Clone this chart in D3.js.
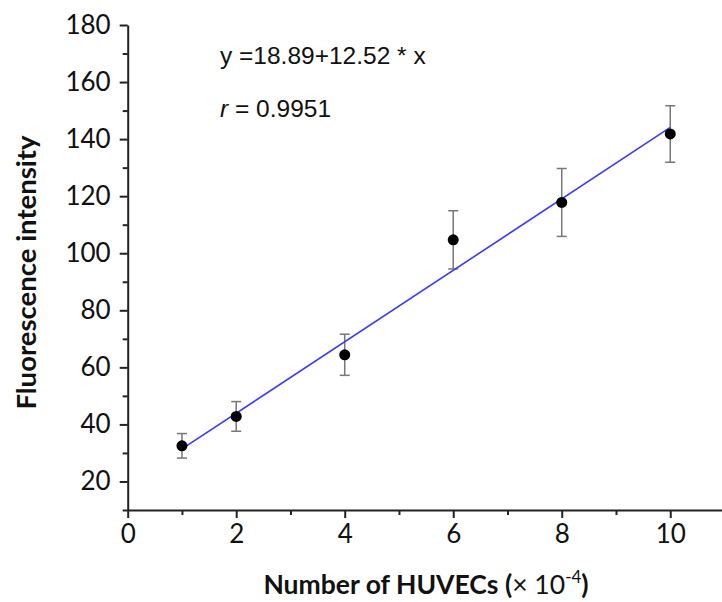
<!DOCTYPE html>
<html>
<head>
<meta charset="utf-8">
<script src="https://cdn.jsdelivr.net/npm/d3@7"></script>
<style>
  html, body { margin: 0; padding: 0; background: #fff; }
  svg { display: block; }
</style>
</head>
<body>
<svg id="chart" width="722" height="602"></svg>
<script>
// ---- data ----
const cellCounts = [1, 2, 4, 6, 8, 10];
const intensity = [32.5, 42.8, 64.4, 104.7, 117.8, 141.8];
const errorSD = [4.3, 5.2, 7.2, 10.2, 11.9, 9.9];
const fitIntercept = 18.89;
const fitSlope = 12.52;
const fitRange = [1, 10];
const xMajorTicks = [0, 2, 4, 6, 8, 10];
const xMinorTicks = [1, 3, 5, 7, 9, 11];
const yMajorTicks = [20, 40, 60, 80, 100, 120, 140, 160, 180];
const yMinorTicks = [10, 30, 50, 70, 90, 110, 130, 150, 170];
const equationText = "y =18.89+12.52 * x";
const rText = "0.9951";

const svg = d3.select("#chart");
const x = d3.scaleLinear().domain([0, 11]).range([127.7, 724.5]);
const y = d3.scaleLinear().domain([10, 180]).range([510, 25]);

const axisFont = "Lato, 'Open Sans', sans-serif";
const axisColor = "#222";

// minor ticks
svg.append("g").attr("transform", `translate(0,${y(10)})`)
  .call(d3.axisBottom(x).tickValues(xMinorTicks).tickSize(5).tickFormat(""))
  .call(g => g.select(".domain").remove())
  .call(g => g.selectAll("line").attr("stroke", axisColor).attr("stroke-width", 2));
svg.append("g").attr("transform", `translate(${x(0)},0)`)
  .call(d3.axisLeft(y).tickValues(yMinorTicks).tickSize(5).tickFormat(""))
  .call(g => g.select(".domain").remove())
  .call(g => g.selectAll("line").attr("stroke", axisColor).attr("stroke-width", 2));

// major axes
const xAxis = svg.append("g").attr("transform", `translate(0,${y(10)})`)
  .call(d3.axisBottom(x).tickValues(xMajorTicks).tickSize(8).tickSizeOuter(0).tickPadding(7).tickFormat(d3.format("d")));
const yAxis = svg.append("g").attr("transform", `translate(${x(0)},0)`)
  .call(d3.axisLeft(y).tickValues(yMajorTicks).tickSize(8).tickSizeOuter(0).tickPadding(9).tickFormat(d3.format("d")));

[xAxis, yAxis].forEach(g => {
  g.select(".domain").attr("stroke", axisColor).attr("stroke-width", 2);
  g.selectAll(".tick line").attr("stroke", axisColor).attr("stroke-width", 2);
  g.selectAll(".tick text").attr("fill", "#111").style("font-family", axisFont).style("font-size", "26px");
});

// error bars
const errColor = "#777";
const capHalf = 5;
const eb = svg.append("g");
cellCounts.forEach((c, i) => {
  const top = intensity[i] + errorSD[i], bot = intensity[i] - errorSD[i];
  eb.append("line").attr("x1", x(c)).attr("x2", x(c)).attr("y1", y(top)).attr("y2", y(bot))
    .attr("stroke", errColor).attr("stroke-width", 1.5);
  [top, bot].forEach(v => eb.append("line")
    .attr("x1", x(c) - capHalf).attr("x2", x(c) + capHalf).attr("y1", y(v)).attr("y2", y(v))
    .attr("stroke", errColor).attr("stroke-width", 1.5));
});

// fit line
svg.append("line")
  .attr("x1", x(fitRange[0])).attr("y1", y(fitIntercept + fitSlope * fitRange[0]))
  .attr("x2", x(fitRange[1])).attr("y2", y(fitIntercept + fitSlope * fitRange[1]))
  .attr("stroke", "#3a3aff").attr("stroke-width", 1.6);

// points
svg.append("g").selectAll("circle").data(cellCounts).join("circle")
  .attr("cx", d => x(d)).attr("cy", (d, i) => y(intensity[i])).attr("r", 5.5)
  .attr("fill", "#000");

// equation
const eqFont = "'Liberation Sans', Arial, sans-serif";
svg.append("text").attr("x", 220).attr("y", 64)
  .style("font-family", eqFont).style("font-size", "24.5px").attr("fill", "#111")
  .text(equationText);
const rt = svg.append("text").attr("x", 220).attr("y", 117)
  .style("font-family", eqFont).style("font-size", "24.5px").attr("fill", "#111");
rt.append("tspan").style("font-style", "italic").text("r");
rt.append("tspan").text(" = " + rText);

// axis titles
svg.append("text")
  .attr("transform", `translate(36,${(y(10) + y(180)) / 2 + 5}) rotate(-90)`)
  .attr("text-anchor", "middle")
  .style("font-family", axisFont).style("font-size", "27.5px").style("font-weight", "bold").attr("fill", "#111")
  .text("Fluorescence intensity");

const xt = svg.append("text").attr("x", 426).attr("y", 594).attr("text-anchor", "middle")
  .style("font-family", axisFont).style("font-size", "26.5px").style("font-weight", "bold").attr("fill", "#111");
xt.append("tspan").text("Number of HUVECs (");
xt.append("tspan").style("font-weight", "normal").text("× 10");
xt.append("tspan").style("font-weight", "normal").style("font-size", "17px").attr("dy", -11).text("-4");
xt.append("tspan").attr("dy", 11).text(")");
</script>
</body>
</html>
